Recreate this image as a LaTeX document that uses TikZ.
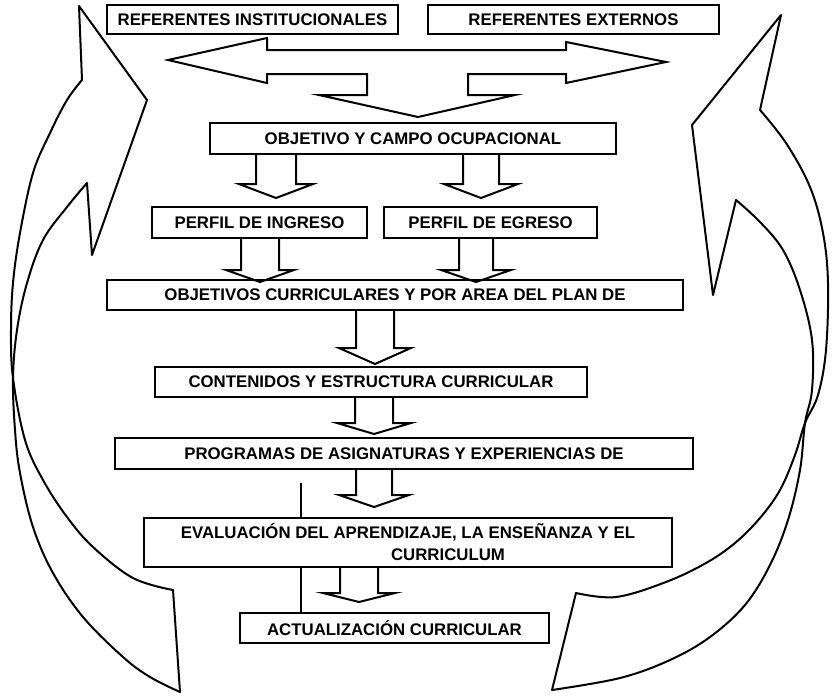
\documentclass[tikz,border=0pt]{standalone}
\usepackage{fontspec}
\setmainfont{Liberation Sans}
\newcommand\dnarrow[6]{% x-centre, half shaft, half head, y top, y barb, y tip
  \draw[blk] (#1-#2,#4) -- (#1-#2,#5) -- (#1-#3,#5) -- (#1,#6) -- (#1+#3,#5) -- (#1+#2,#5) -- (#1+#2,#4);}
\begin{document}
\begin{tikzpicture}[x=0.75pt,y=-0.75pt,
  box/.style={draw, line width=1.5pt, fill=white, inner sep=0pt, outer sep=0pt,
              font=\fontsize{12.6}{16.5}\selectfont\bfseries, align=center},
  sz/.style 2 args={minimum width=#1*0.75pt, minimum height=#2*0.75pt},
  blk/.style={draw, line width=1.5pt, line join=miter},
  curv/.style={draw, line width=1.5pt, line join=round, line cap=round},
  thin/.style={draw, line width=0.8pt}]
\useasboundingbox (0,0) rectangle (833,697);
\fill[white] (0,0) rectangle (833,697);

% thin vertical line behind the lower boxes
\coordinate (la) at (301,483);
\coordinate (lb) at (301,613);
\draw[thin] (la) -- (lb);

% boxes
\node[box, sz={291}{29}] (refinst) at (252.5,19.5) {REFERENTES INSTITUCIONALES};
\node[box, sz={291}{29}] (refext)  at (573.5,19.5) {REFERENTES EXTERNOS};
\node[box, sz={406}{31}] (obj)     at (413,138.5) {OBJETIVO Y CAMPO OCUPACIONAL};
\node[box, sz={215}{31}] (ping)    at (259.5,222.5) {PERFIL DE INGRESO};
\node[box, sz={213}{31}] (pegr)    at (490.5,222.5) {PERFIL DE EGRESO};
\node[box, sz={576}{30}] (objcur)  at (395,295) {OBJETIVOS CURRICULARES Y POR AREA DEL PLAN DE};
\node[box, sz={432}{30}] (cont)    at (371,382) {CONTENIDOS Y ESTRUCTURA CURRICULAR};
\node[box, sz={578}{31}] (prog)    at (404,453.5) {PROGRAMAS DE ASIGNATURAS Y EXPERIENCIAS DE};
\node[box, sz={528}{49}] (eval)    at (408,542.5) {EVALUACIÓN DEL APRENDIZAJE, LA ENSEÑANZA Y EL\\\hspace*{60pt}CURRICULUM};
\node[box, sz={309}{30}] (act)     at (394.5,628) {ACTUALIZACIÓN CURRICULAR};

% double block arrow between the referents and the objective
\draw[blk] (168,60) -- (267,38) -- (267,50) -- (566,50) -- (566,42) -- (666,62)
  -- (566,83) -- (566,74) -- (468,74) -- (468,95) -- (515,95) -- (418,117)
  -- (319,95) -- (367,95) -- (367,74) -- (267,74) -- (267,83) -- cycle;

% vertical block arrows
\dnarrow{276}{20}{37}{154}{184}{198}
\dnarrow{481}{18}{37}{154}{184}{198}
\dnarrow{260}{19}{34}{238}{270}{282}
\dnarrow{476}{17}{35}{238}{270}{282}
\dnarrow{375}{19}{36}{310}{348}{364}
\dnarrow{374}{19}{37}{397}{423}{434}
\dnarrow{374}{18}{35}{469}{495}{507}
\dnarrow{359}{19}{36}{567}{593}{602}

% left curved arrow
\draw[curv] (82,80) -- (79,6) -- (147,100) -- (92,255) -- (87,183);
\draw[curv] plot[smooth, tension=0.6] coordinates {(87,183) (67,207) (43,240) (27,283) (17,330) (13,378) (15,430) (20,473) (33,527) (53,573) (83,617) (123,657) (150,677) (180,692)};
\draw[curv] plot[smooth, tension=0.6] coordinates {(82,80) (67,100) (50,133) (33,173) (20,233) (13,283) (11,330) (13,378) (25,440) (43,480) (67,517) (93,547) (133,578) (173,590)};
\draw[curv] (173,590) -- (180,692);

% right curved arrow
\draw[curv] (692,125) -- (781,15) -- (760,110);
\draw[curv] (692,125) -- (713,295) -- (736,200);
\draw[curv] plot[smooth, tension=0.6] coordinates {(760,110) (786,143) (810,187) (823,233) (828,283) (826,350) (818,395) (805,423) (795,455) (780,490) (760,518) (735,543) (706,563) (666,582) (616,597) (576,593)};
\draw[curv] plot[smooth, tension=0.6] coordinates {(736,200) (760,222) (783,250) (800,290) (812,340) (812,390) (805,423) (800,470) (788,520) (770,565) (745,605) (710,637) (670,660) (620,678) (552,690)};
\draw[curv] (576,593) -- (552,690);
\end{tikzpicture}
\end{document}
